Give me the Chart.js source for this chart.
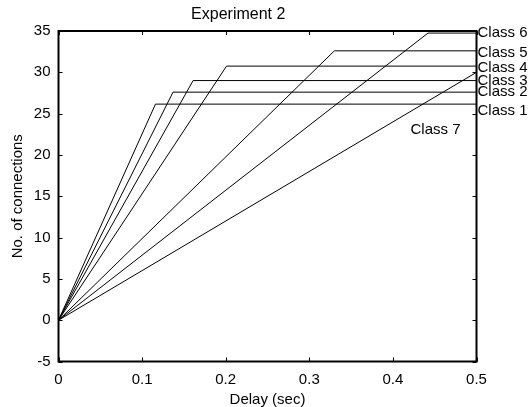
<!DOCTYPE html>
<html>
<head>
<meta charset="utf-8">
<script src="https://cdn.jsdelivr.net/npm/chart.js@4"></script>
<style>
  body { margin: 0; background: #fff; }
  #wrap { width: 529px; height: 407px; }
</style>
</head>
<body>
<div id="wrap"><canvas id="chart"></canvas></div>
<script>
// classes 1..6 rise linearly then level off; class 7 keeps rising
const classNames = ['Class 1', 'Class 2', 'Class 3', 'Class 4', 'Class 5', 'Class 6'];
const kneeDelay = [0.116, 0.137, 0.161, 0.201, 0.33, 0.442];
const plateau = [26.15, 27.6, 29.0, 30.75, 32.6, 34.75];
const class7End = 30.0;
const labelValues = [25.3, 27.6, 29.0, 30.5, 32.3, 34.8];
const class7Label = { x: 0.451, y: 23.0 };
const xTicks = [0, 0.1, 0.2, 0.3, 0.4, 0.5];
const yTicks = [-5, 0, 5, 10, 15, 20, 25, 30, 35];

const FONT = '"Liberation Sans", Arial, sans-serif';

const datasets = classNames.map((name, i) => ({
  label: name,
  data: [{ x: 0, y: 0 }, { x: kneeDelay[i], y: plateau[i] }, { x: 0.5, y: plateau[i] }],
  borderColor: '#000',
  borderWidth: 1,
  pointRadius: 0,
  fill: false
}));
datasets.push({
  label: 'Class 7',
  data: [{ x: 0, y: 0 }, { x: 0.5, y: class7End }],
  borderColor: '#000',
  borderWidth: 1,
  pointRadius: 0,
  fill: false
});

const framePlugin = {
  id: 'frame',
  afterDraw(chart) {
    const ctx = chart.ctx;
    const a = chart.chartArea;
    const xs = chart.scales.x, ys = chart.scales.y;
    ctx.save();
    // class labels
    ctx.fillStyle = '#000';
    ctx.font = '15px ' + FONT;
    ctx.textBaseline = 'middle';
    ctx.textAlign = 'left';
    classNames.forEach((name, i) => {
      ctx.fillText(name, a.right + 1, ys.getPixelForValue(labelValues[i]));
    });
    ctx.textAlign = 'center';
    ctx.fillText('Class 7', xs.getPixelForValue(class7Label.x), ys.getPixelForValue(class7Label.y));
    // box
    ctx.strokeStyle = '#000';
    ctx.lineWidth = 2;
    ctx.strokeRect(a.left, a.top, a.right - a.left, a.bottom - a.top);
    // inward ticks
    ctx.lineWidth = 1;
    const len = 4;
    ctx.beginPath();
    xTicks.forEach(v => {
      const px = Math.round(xs.getPixelForValue(v)) + 0.5;
      ctx.moveTo(px, a.bottom); ctx.lineTo(px, a.bottom - len);
      ctx.moveTo(px, a.top); ctx.lineTo(px, a.top + len);
    });
    yTicks.forEach(v => {
      const py = Math.round(ys.getPixelForValue(v)) + 0.5;
      ctx.moveTo(a.left, py); ctx.lineTo(a.left + len, py);
      ctx.moveTo(a.right, py); ctx.lineTo(a.right - len, py);
    });
    ctx.stroke();
    ctx.restore();
  }
};

new Chart(document.getElementById('chart'), {
  type: 'line',
  data: { datasets },
  options: {
    responsive: true,
    maintainAspectRatio: false,
    animation: false,
    layout: { padding: { left: 0, right: 52.5, top: 0, bottom: 0 } },
    plugins: {
      legend: { display: false },
      tooltip: { enabled: false },
      title: {
        display: true,
        text: 'Experiment 2',
        color: '#000',
        font: { family: FONT, size: 16, weight: 'normal' },
        padding: { top: 5, bottom: 6.8 }
      }
    },
    scales: {
      x: {
        type: 'linear',
        min: 0,
        max: 0.5,
        afterBuildTicks: s => { s.ticks = xTicks.map(v => ({ value: v })); },
        afterFit: s => { s.height = 45.5; },
        grid: { display: false, drawTicks: false },
        border: { display: false },
        ticks: {
          color: '#000',
          padding: 9,
          maxRotation: 0,
          font: { family: FONT, size: 15 },
          callback: v => v === 0 ? '0' : v.toFixed(1)
        },
        title: {
          display: true,
          text: 'Delay (sec)',
          color: '#000',
          font: { family: FONT, size: 15 },
          padding: { top: 0, bottom: -2 }
        }
      },
      y: {
        min: -5,
        max: 35,
        afterBuildTicks: s => { s.ticks = yTicks.map(v => ({ value: v })); },
        afterFit: s => { s.width = 58.5; },
        grid: { display: false, drawTicks: false },
        border: { display: false },
        ticks: {
          color: '#000',
          padding: 8,
          font: { family: FONT, size: 15 }
        },
        title: {
          display: true,
          text: 'No. of connections',
          color: '#000',
          font: { family: FONT, size: 15 },
          padding: { top: 9, bottom: 0 }
        }
      }
    }
  },
  plugins: [framePlugin]
});
</script>
</body>
</html>
